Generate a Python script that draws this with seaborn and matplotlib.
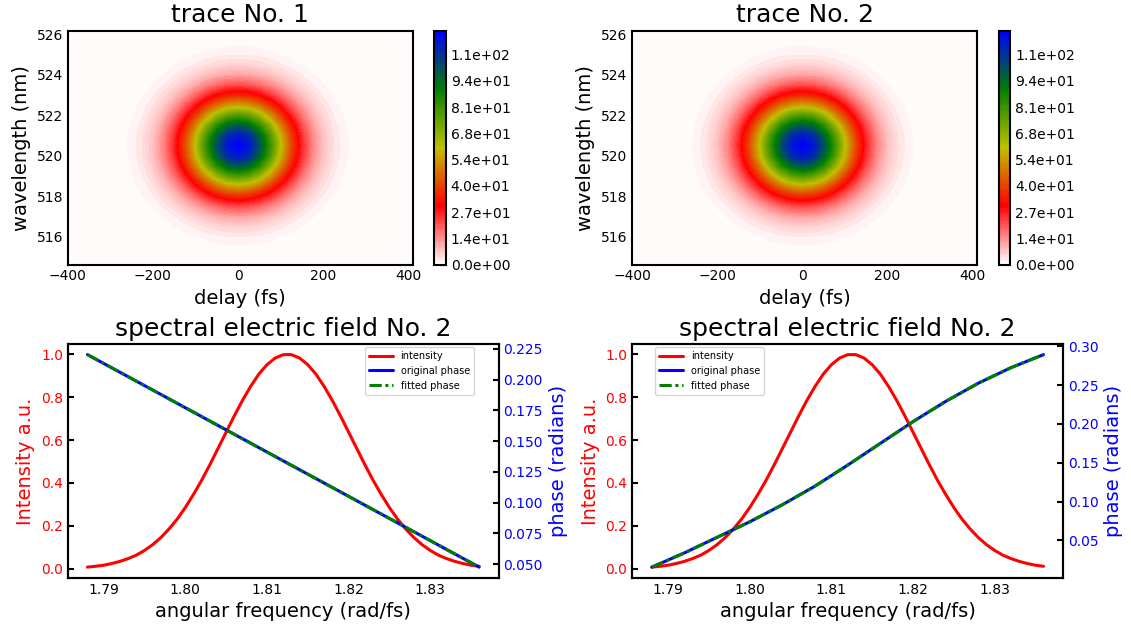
import numpy as np
import matplotlib
matplotlib.use('Agg')
import matplotlib.pyplot as plt
import seaborn as sns
from matplotlib.colors import LinearSegmentedColormap
from matplotlib.ticker import FormatStrFormatter

# ---- trace data ----
delays = [-400, -375, -350, -325, -300, -275, -250, -225, -200, -175, -150, -125, -100, -75, -50, -25,
          0, 25, 50, 75, 100, 125, 150, 175, 200, 225, 250, 275, 300, 325, 350, 375, 400, 410]
delay_profile = [0.00002, 0.00006, 0.00021, 0.00067, 0.00197, 0.00533, 0.0132, 0.0301, 0.0628, 0.120,
                 0.211, 0.339, 0.501, 0.678, 0.841, 0.958,
                 1.000, 0.958, 0.841, 0.678, 0.501, 0.339, 0.211, 0.120, 0.0628, 0.0301, 0.0132,
                 0.00533, 0.00197, 0.00067, 0.00021, 0.00006, 0.00002, 0.00001]
wavelengths = [514.5, 515.0, 515.5, 516.0, 516.5, 517.0, 517.5, 518.0, 518.5, 519.0, 519.5, 520.0,
               520.5, 521.0, 521.5, 522.0, 522.5, 523.0, 523.5, 524.0, 524.5, 525.0, 525.5, 526.0, 526.5]
wavelength_profile = [0.00088, 0.00272, 0.00757, 0.0192, 0.0439, 0.0914, 0.172, 0.295, 0.458, 0.644,
                      0.823, 0.952, 1.000, 0.952, 0.823, 0.644, 0.458, 0.295, 0.172, 0.0914, 0.0439,
                      0.0192, 0.00757, 0.00272, 0.00088]
trace_peak = 120.2
cbar_ticks = [0, 13.5, 27.0, 40.5, 54.0, 67.5, 81.0, 94.5, 108.0]

# ---- spectral field data ----
freq = [1.788, 1.789, 1.790, 1.791, 1.792, 1.793, 1.794, 1.795, 1.796, 1.797, 1.798, 1.799,
        1.800, 1.801, 1.802, 1.803, 1.804, 1.805, 1.806, 1.807, 1.808, 1.809, 1.810, 1.811,
        1.812, 1.813, 1.814, 1.815, 1.816, 1.817, 1.818, 1.819, 1.820, 1.821, 1.822, 1.823,
        1.824, 1.825, 1.826, 1.827, 1.828, 1.829, 1.830, 1.831, 1.832, 1.833, 1.834, 1.835, 1.836]
intensity = [0.008, 0.012, 0.017, 0.025, 0.035, 0.048, 0.064, 0.086, 0.113, 0.146, 0.186, 0.232,
             0.286, 0.347, 0.413, 0.485, 0.561, 0.637, 0.713, 0.785, 0.850, 0.907, 0.951, 0.982,
             0.998, 0.998, 0.982, 0.951, 0.907, 0.850, 0.785, 0.713, 0.637, 0.561, 0.485, 0.413,
             0.347, 0.286, 0.232, 0.186, 0.146, 0.113, 0.086, 0.064, 0.048, 0.035, 0.025, 0.017, 0.012]

phase_freq = [1.788, 1.792, 1.796, 1.800, 1.804, 1.808, 1.812, 1.816, 1.820, 1.824, 1.828, 1.832, 1.836]
phase_1 = [0.2203, 0.2059, 0.1915, 0.1771, 0.1627, 0.1483, 0.1339, 0.1195, 0.1051, 0.0907, 0.0763,
           0.0619, 0.0475]
phase_2 = [0.0156, 0.034, 0.054, 0.074, 0.096, 0.120, 0.147, 0.175, 0.203, 0.229, 0.2525, 0.2725, 0.2893]

trace_titles = ['trace No. 1', 'trace No. 2']
field_titles = ['spectral electric field No. 2', 'spectral electric field No. 2']
phases = [phase_1, phase_2]
legend_anchor = [('upper right', (0.942, 0.987)), ('upper left', (0.053, 0.987))]

sns.set_style('white', {'text.color': 'black', 'axes.labelcolor': 'black', 'xtick.color': 'black',
                        'ytick.color': 'black', 'axes.edgecolor': 'black'})
plt.rcParams['font.family'] = ['DejaVu Sans']

trace_cmap = LinearSegmentedColormap.from_list('trace', ['white', 'red', 'y', 'green', 'blue'])

fig, axes = plt.subplots(2, 2, figsize=(11.31, 6.28), dpi=100)
fig.subplots_adjust(left=0.060, right=0.940, bottom=0.080, top=0.951, wspace=0.31, hspace=0.34)

def style_axis(ax):
    for s in ax.spines.values():
        s.set_linewidth(1.5)
        s.set_color('black')
    ax.tick_params(direction='in', length=4, width=1.5, labelsize=10)

# trace plots
trace = trace_peak * np.outer(wavelength_profile, delay_profile)
levels = np.linspace(0, trace_peak, 100)
for ax, title in zip(axes[0], trace_titles):
    cs = ax.contourf(delays, wavelengths, trace, levels=levels, cmap=trace_cmap)
    ax.set_xlim(-400, 410)
    ax.set_ylim(514.64, 526.18)
    ax.set_title(title, fontsize=18)
    ax.set_xlabel('delay (fs)', fontsize=14)
    ax.set_ylabel('wavelength (nm)', fontsize=14)
    style_axis(ax)
    cbar = fig.colorbar(cs, ax=ax)
    cbar.set_ticks(cbar_ticks)
    cbar.ax.yaxis.set_major_formatter(FormatStrFormatter('%.1e'))
    cbar.ax.tick_params(direction='in', length=4, width=1.5, labelsize=10)
    cbar.outline.set_linewidth(1.5)

# spectral field plots
for i, ax in enumerate(axes[1]):
    sns.lineplot(x=freq, y=intensity, ax=ax, color='red', linewidth=2.2, legend=False)
    ax2 = ax.twinx()
    sns.lineplot(x=phase_freq, y=phases[i], ax=ax2, color='blue', linewidth=2.2, legend=False)
    sns.lineplot(x=phase_freq, y=phases[i], ax=ax2, color='green', linewidth=2.2,
                 linestyle=(0, (4, 1.2, 1, 1.2)), legend=False)
    ax.set_title(field_titles[i], fontsize=18)
    ax.set_xlabel('angular frequency (rad/fs)', fontsize=14)
    ax.set_ylabel('Intensity a.u.', color='red', fontsize=14)
    ax2.set_ylabel('phase (radians)', color='blue', fontsize=14)
    ax.set_xticks([1.79, 1.80, 1.81, 1.82, 1.83])
    style_axis(ax)
    style_axis(ax2)
    ax.tick_params(axis='y', labelcolor='red')
    ax2.tick_params(axis='y', labelcolor='blue')
    handles = ax.get_lines() + ax2.get_lines()
    loc, anchor = legend_anchor[i]
    ax2.legend(handles, ['intensity', 'original phase', 'fitted phase'], loc=loc,
               bbox_to_anchor=anchor, borderaxespad=0, fontsize=7, handlelength=2.5)

fig.savefig('out.png', dpi=100)
